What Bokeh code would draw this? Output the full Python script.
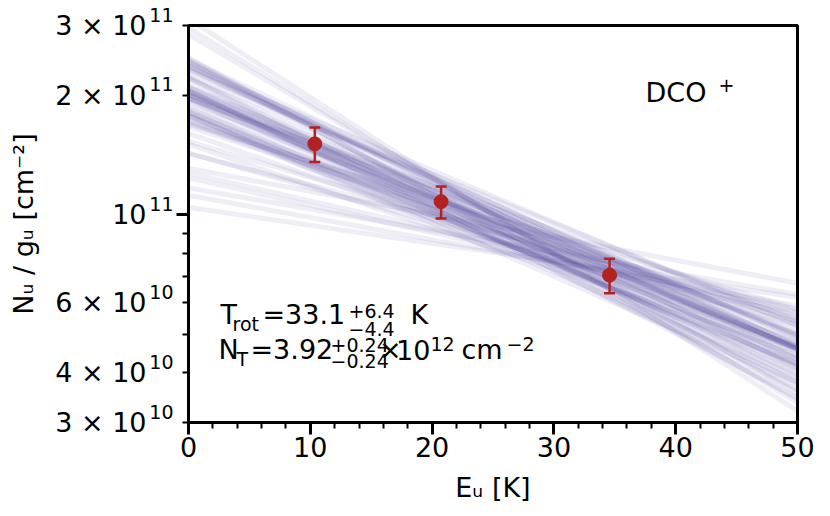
from bokeh.plotting import figure
from bokeh.models import ColumnDataSource, FixedTicker, Label, Range1d, LogAxis
from bokeh.embed import file_html
from bokeh.resources import INLINE

# ---------------- data ----------------
eu = [10.37, 20.74, 34.57]                 # upper-level energy [K]
nu_gu = [1.51e11, 1.08e11, 7.05e10]        # N_u/g_u [cm^-2]
nu_gu_err = [1.5e10, 1.0e10, 7.0e9]

# posterior sample lines: N_u/g_u at E_u = 0 K and at E_u = 50 K (units of 1e10 cm^-2)
sample_start = [20.63, 23.95, 19.64, 23.07, 18.64, 20.09, 17.78, 20.16, 17.70, 19.64,
                20.58, 21.40, 23.30, 17.88, 20.95, 18.16, 22.38, 18.15, 18.74, 15.08,
                23.85, 24.29, 20.39, 22.11, 19.78, 20.01, 20.52, 17.16, 17.13, 24.37,
                22.23, 23.27, 19.98, 23.61, 18.06, 19.36, 17.32, 16.91, 24.90, 24.65,
                17.79, 20.42, 19.32, 19.67, 14.31, 28.50, 23.68, 20.86, 20.27, 16.05,
                14.27, 29.58, 22.15, 21.03, 16.69, 12.75, 13.10, 24.54, 18.29, 15.32,
                11.70, 10.45, 31.19, 11.20, 12.40]
sample_end = [3.61, 4.58, 4.02, 4.93, 4.11, 4.58, 4.19, 4.97, 4.58, 5.54,
              3.78, 4.24, 4.88, 3.91, 4.71, 4.21, 5.38, 4.58, 5.06, 4.52,
              3.87, 4.33, 3.98, 4.59, 4.35, 4.60, 5.00, 4.41, 5.47, 3.64,
              3.78, 4.68, 4.31, 5.26, 4.22, 4.83, 4.77, 5.78, 3.43, 4.66,
              3.76, 4.61, 4.63, 5.19, 5.27, 3.55, 4.43, 4.15, 4.63, 4.67,
              5.75, 3.36, 3.47, 5.00, 5.36, 5.69, 6.73, 4.11, 4.64, 5.40,
              6.30, 6.20, 3.21, 5.90, 5.60]
sample_eu_range = [0, 50]

x_major_ticks = [0, 10, 20, 30, 40, 50]
x_minor_ticks = [2, 4, 6, 8, 12, 14, 16, 18, 22, 24, 26, 28, 32, 34, 36, 38, 42, 44, 46, 48]
y_major_ticks = [1e11]
y_minor_ticks = [3e10, 4e10, 5e10, 6e10, 7e10, 8e10, 9e10, 2e11, 3e11]
y_label_values = [3e10, 4e10, 6e10, 1e11, 2e11, 3e11]
y_label_bases = ["3 × 10", "4 × 10", "6 × 10", "10", "2 × 10", "3 × 10"]
y_label_exps = ["10", "10", "10", "11", "11", "11"]

FONT = "DejaVu Sans"
BIG = "27px"
SMALL = "19px"

p = figure(width=830, height=516, y_axis_type="log",
           x_range=Range1d(0, 50), y_range=Range1d(3e10, 3e11),
           output_backend="svg", toolbar_location=None,
           min_border_left=188, min_border_right=33, min_border_top=25, min_border_bottom=94)
p.grid.visible = False
p.outline_line_color = "black"
p.outline_line_width = 3
p.background_fill_color = "white"
p.border_fill_color = "white"

# sample lines
line_src = ColumnDataSource(dict(
    x0=[sample_eu_range[0]] * len(sample_start),
    x1=[sample_eu_range[1]] * len(sample_start),
    y0=[v * 1e10 for v in sample_start],
    y1=[v * 1e10 for v in sample_end],
))
p.segment(x0="x0", y0="y0", x1="x1", y1="y1", source=line_src,
          line_color="#4b3f92", line_alpha=0.085, line_width=5)

# data points with error bars
pt_src = ColumnDataSource(dict(
    x=eu, y=nu_gu,
    lo=[v - e for v, e in zip(nu_gu, nu_gu_err)],
    hi=[v + e for v, e in zip(nu_gu, nu_gu_err)],
))
RED = "#b22222"
p.segment(x0="x", y0="lo", x1="x", y1="hi", source=pt_src, line_color=RED, line_width=2.5)
p.scatter(x="x", y="lo", source=pt_src, marker="dash", size=11, line_color=RED, line_width=2.5)
p.scatter(x="x", y="hi", source=pt_src, marker="dash", size=11, line_color=RED, line_width=2.5)
p.scatter(x="x", y="y", source=pt_src, marker="circle", size=14, fill_color=RED, line_color=RED)

def style_axis(ax):
    ax.axis_line_width = 3
    ax.axis_line_color = "black"
    ax.major_tick_line_width = 3
    ax.minor_tick_line_width = 2
    ax.major_tick_out = 12
    ax.major_tick_in = 0
    ax.minor_tick_out = 6
    ax.minor_tick_in = 0
    ax.major_label_text_font = FONT
    ax.major_label_text_font_size = BIG
    ax.major_label_text_color = "black"
    ax.axis_label_text_font = FONT
    ax.axis_label_text_font_size = BIG
    ax.axis_label_text_font_style = "normal"
    ax.axis_label_text_color = "black"

# x axis
xa = p.xaxis[0]
style_axis(xa)
xa.ticker = FixedTicker(ticks=x_major_ticks, minor_ticks=x_minor_ticks)
xa.axis_label = "Eᵤ [K]"
xa.major_label_standoff = 2
xa.axis_label_standoff = 12

# y axis: ticks only (inner)
ya = p.yaxis[0]
style_axis(ya)
ya.ticker = FixedTicker(ticks=y_major_ticks, minor_ticks=y_minor_ticks)
ya.major_label_overrides = {1e11: ""}
ya.major_label_text_font_size = "0px"
ya.major_label_standoff = 0

# y tick labels: exponent column (raised by an empty second line), then mantissa column
exp_axis = LogAxis(ticker=FixedTicker(ticks=y_label_values, minor_ticks=[]),
                   major_label_overrides={v: e + "\n" for v, e in zip(y_label_values, y_label_exps)},
                   axis_line_color=None, major_tick_line_color=None, minor_tick_line_color=None,
                   major_tick_out=0, major_tick_in=0, minor_tick_out=0, minor_tick_in=0,
                   major_label_standoff=3, major_label_text_font=FONT,
                   major_label_text_font_size=SMALL, major_label_text_color="black",
                   major_label_text_line_height=1.0)
base_axis = LogAxis(ticker=FixedTicker(ticks=y_label_values, minor_ticks=[]),
                    major_label_overrides={v: b for v, b in zip(y_label_values, y_label_bases)},
                    axis_line_color=None, major_tick_line_color=None, minor_tick_line_color=None,
                    major_tick_out=0, major_tick_in=0, minor_tick_out=0, minor_tick_in=0,
                    major_label_standoff=0, major_label_text_font=FONT,
                    major_label_text_font_size=BIG, major_label_text_color="black",
                    axis_label="Nᵤ / gᵤ [cm⁻²]", axis_label_standoff=13,
                    axis_label_text_font=FONT, axis_label_text_font_size=BIG,
                    axis_label_text_font_style="normal", axis_label_text_color="black")
p.add_layout(exp_axis, "left")
p.add_layout(base_axis, "left")

# annotation texts, offsets from the lower-left frame corner (pixels)
pieces = [
    ("T", 32, 107.7, BIG), ("rot", 44, 98.7, SMALL), ("=33.1", 74, 107.7, BIG),
    ("+6.4", 160, 111.2, SMALL), ("−4.4", 160, 93.2, SMALL), ("K", 222, 107.7, BIG),
    ("N", 30, 72.7, BIG), ("T", 48, 63.7, SMALL), ("=3.92", 62, 72.7, BIG),
    ("+0.24", 142, 77.7, SMALL), ("−0.24", 142, 61.7, SMALL), ("×", 190.5, 72.7, BIG),
    ("10", 207.5, 72.7, BIG), ("12", 242, 78.7, SMALL), ("cm", 273, 72.7, BIG),
    ("−2", 318, 78.7, SMALL),
    ("DCO", 457, 329.7, BIG), ("+", 530, 337.7, SMALL),
]
for t, dx, dy, fs in pieces:
    p.add_layout(Label(x=0, y=3e10, x_units="data", y_units="data", x_offset=dx, y_offset=dy,
                       text=t, text_align="left", text_baseline="alphabetic",
                       text_font=FONT, text_font_size=fs, text_color="black"))

open("out.html", "w").write(file_html(p, INLINE))
